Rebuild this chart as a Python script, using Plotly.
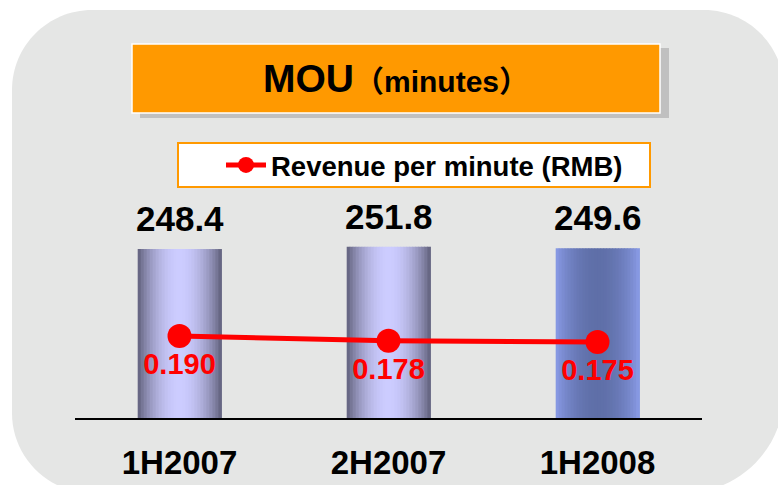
import math
import plotly.graph_objects as go

# ---- data ----
categories = ["1H2007", "2H2007", "1H2008"]
mou = [248.4, 251.8, 249.6]
mou_labels = ["248.4", "251.8", "249.6"]
rev_per_min = [0.190, 0.178, 0.175]
rev_labels = ["0.190", "0.178", "0.175"]
title_main = "MOU"
title_unit = "（minutes）"
line_name = "Revenue per minute (RMB)"

W, H = 778, 485
FONT = "Liberation Sans, Arial, Noto Sans CJK TC, sans-serif"


def px(x):
    return x / W


def py(y):
    return 1 - y / H


def rr_path(x0, y0, x1, y1, rtl, rtr, rbr, rbl):
    k = 0.5523

    def P(x, y):
        return f"{px(x):.5f},{py(y):.5f}"
    s = f"M {P(x0 + rtl, y0)} L {P(x1 - rtr, y0)} "
    s += f"C {P(x1 - rtr + k * rtr, y0)} {P(x1, y0 + rtr - k * rtr)} {P(x1, y0 + rtr)} "
    s += f"L {P(x1, y1 - rbr)} "
    s += f"C {P(x1, y1 - rbr + k * rbr)} {P(x1 - rbr + k * rbr, y1)} {P(x1 - rbr, y1)} "
    s += f"L {P(x0 + rbl, y1)} "
    s += f"C {P(x0 + rbl - k * rbl, y1)} {P(x0, y1 - rbl + k * rbl)} {P(x0, y1 - rbl)} "
    s += f"L {P(x0, y0 + rtl)} "
    s += f"C {P(x0, y0 + rtl - k * rtl)} {P(x0 + rtl - k * rtl, y0)} {P(x0 + rtl, y0)} Z"
    return s


def lerp(c1, c2, f):
    return "rgb({},{},{})".format(*[round(a + (b - a) * f) for a, b in zip(c1, c2)])


fig = go.Figure()

# ---- gradient bars built from slices ----
BAR_W = 0.40
N = 28
edge_a, center_a = (92, 92, 118), (204, 204, 255)
edge_b, center_b = (138, 156, 232), (95, 111, 168)
styles = [(edge_a, center_a), (edge_a, center_a), (edge_b, center_b)]
for i in range(N):
    t = (i + 0.5) / N
    f = math.sin(math.pi * t) ** 0.8
    colors = [lerp(e, c, f) for e, c in styles]
    fig.add_trace(go.Bar(
        x=categories, y=mou,
        width=BAR_W / N + 0.003,
        offset=-BAR_W / 2 + i * BAR_W / N,
        marker=dict(color=colors, line=dict(width=0)),
        showlegend=False, hoverinfo="skip",
    ))

# ---- line on secondary axis ----
fig.add_trace(go.Scatter(
    x=categories, y=rev_per_min, yaxis="y2",
    mode="lines+markers+text",
    name=line_name,
    line=dict(color="#ff0000", width=5),
    marker=dict(color="#ff0000", size=24),
    text=rev_labels, textposition="bottom center",
    textfont=dict(family=FONT, size=29, color="#ff0000", weight="bold"),
    cliponaxis=False,
))

annotations = []
for c, v, lab in zip(categories, mou, mou_labels):
    annotations.append(dict(
        x=c, y=v, xref="x", yref="y", text=lab, showarrow=False,
        yanchor="bottom", yshift=9,
        font=dict(family=FONT, size=35, color="black", weight="bold"),
    ))

annotations.append(dict(
    x=px(396), y=py(79), xref="paper", yref="paper",
    text=f"{title_main}<span style='font-size:30px'>{title_unit}</span>",
    showarrow=False, xanchor="center", yanchor="middle",
    font=dict(family=FONT, size=39, color="black", weight="bold"),
))

shapes = [
    # rounded grey background
    dict(type="path", xref="paper", yref="paper", layer="below",
         path=rr_path(12, 10, 784, 493, 80, 80, 100, 80),
         fillcolor="#e5e6e5", line=dict(width=0)),
    # title shadow
    dict(type="rect", xref="paper", yref="paper", layer="below",
         x0=px(140), x1=px(669), y0=py(48), y1=py(118),
         fillcolor="#c0c0c0", line=dict(width=0)),
    # title box
    dict(type="rect", xref="paper", yref="paper", layer="below",
         x0=px(132), x1=px(660), y0=py(44), y1=py(113),
         fillcolor="#ff9900", line=dict(color="white", width=1.5)),
    # legend box
    dict(type="rect", xref="paper", yref="paper", layer="below",
         x0=px(178), x1=px(650), y0=py(143), y1=py(187),
         fillcolor="white", line=dict(color="#ff9900", width=2)),
]

fig.update_layout(
    width=W, height=H,
    margin=dict(l=0, r=0, t=0, b=0),
    paper_bgcolor="white", plot_bgcolor="rgba(0,0,0,0)",
    barmode="overlay",
    showlegend=True,
    legend=dict(
        x=px(221), y=py(165), xanchor="left", yanchor="middle",
        bgcolor="rgba(0,0,0,0)", borderwidth=0,
        font=dict(family=FONT, size=27.5, color="black", weight="bold"),
        itemwidth=40,
    ),
    xaxis=dict(
        domain=[px(75), px(702)], range=[-0.5, 2.5],
        showline=True, linecolor="black", linewidth=2,
        showgrid=False, zeroline=False, ticks="",
        ticklabelstandoff=14,
        tickfont=dict(family=FONT, size=33, color="black", weight="bold"),
    ),
    yaxis=dict(
        domain=[1 - 418 / H, 1 - 150 / H], range=[0, 394],
        visible=False, showgrid=False, zeroline=False,
    ),
    yaxis2=dict(
        overlaying="y", range=[-0.015, 0.655],
        visible=False, showgrid=False, zeroline=False,
    ),
    shapes=shapes,
    annotations=annotations,
    hovermode=False,
)

fig.write_html(
    "out.html",
    config={"displayModeBar": False},
    post_script="document.body.style.margin='0';document.body.style.overflow='hidden';",
)
